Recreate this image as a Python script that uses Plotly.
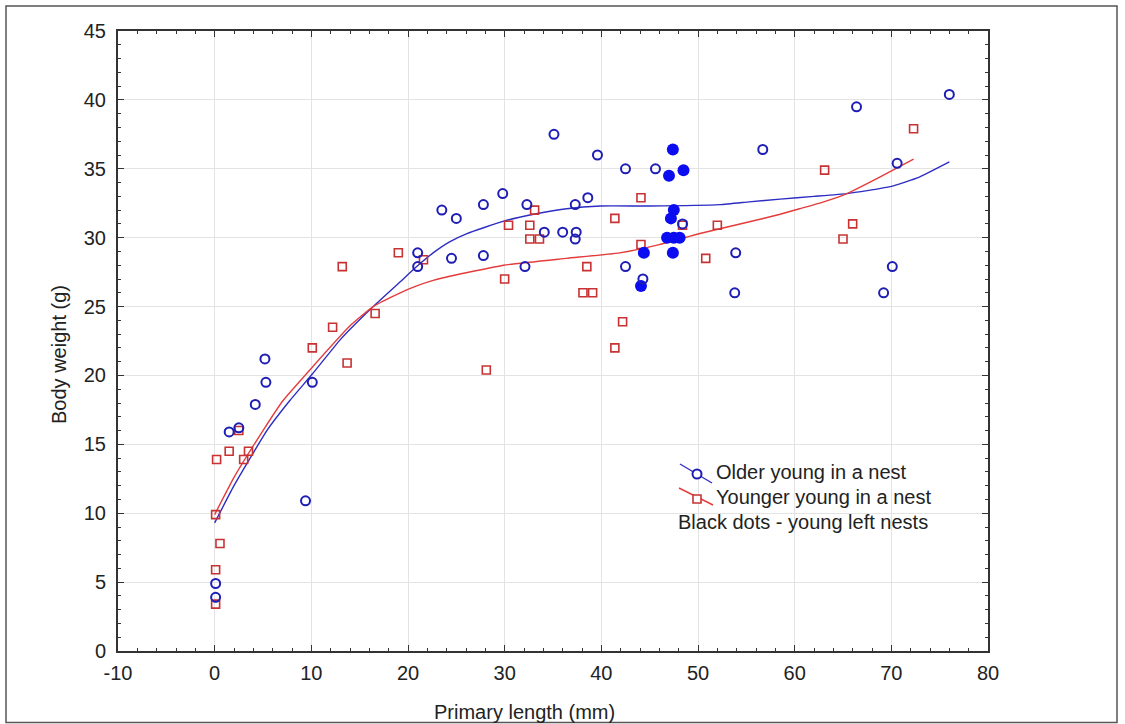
import plotly.graph_objects as go

# ---------------- data ----------------
older_x = [0.1, 0.1, 1.5, 2.5, 4.2, 5.2, 5.3, 9.4, 10.1, 21.0, 21.0, 23.5, 25.0, 24.5,
           27.8, 27.8, 29.8, 32.3, 32.1, 34.1, 35.1, 36.0, 37.4, 37.3, 37.3, 38.6,
           39.6, 42.5, 42.5, 44.3, 45.6, 48.4, 53.9, 53.8, 56.7, 66.4, 70.6, 70.1,
           69.2, 76.0]
older_y = [4.9, 3.9, 15.9, 16.2, 17.9, 21.2, 19.5, 10.9, 19.5, 28.9, 27.9, 32.0, 31.4, 28.5,
           32.4, 28.7, 33.2, 32.4, 27.9, 30.4, 37.5, 30.4, 30.4, 29.9, 32.4, 32.9,
           36.0, 35.0, 27.9, 27.0, 35.0, 31.0, 28.9, 26.0, 36.4, 39.5, 35.4, 27.9,
           26.0, 40.4]

younger_x = [0.1, 0.1, 0.55, 0.1, 0.2, 1.5, 2.5, 3.0, 3.5, 10.1, 12.2, 13.2, 13.7, 16.6,
             19.0, 21.6, 28.1, 30.0, 30.4, 32.6, 32.6, 33.1, 33.6, 38.5, 38.1, 39.1,
             41.4, 41.4, 42.2, 44.1, 44.1, 48.4, 50.8, 52.0, 63.1, 65.0, 66.0, 72.3]
younger_y = [3.4, 5.9, 7.8, 9.9, 13.9, 14.5, 16.0, 13.9, 14.5, 22.0, 23.5, 27.9, 20.9, 24.5,
             28.9, 28.4, 20.4, 27.0, 30.9, 30.9, 29.9, 32.0, 29.9, 27.9, 26.0, 26.0,
             31.4, 22.0, 23.9, 32.9, 29.5, 30.9, 28.5, 30.9, 34.9, 29.9, 31.0, 37.9]

left_x = [47.4, 47.0, 48.5, 47.5, 47.2, 46.8, 47.5, 48.1, 44.4, 47.4, 44.1]
left_y = [36.4, 34.5, 34.9, 32.0, 31.4, 30.0, 30.0, 30.0, 28.9, 28.9, 26.5]

older_fit_x = [0, 2, 5.4, 7.8, 10.1, 13, 16.4, 19.2, 20.9, 22.6, 24.3, 26.1, 29.9, 33.0,
               36.4, 39.9, 45, 52.3, 55.3, 58.5, 62, 65.4, 69.9, 72.9, 76.0]
older_fit_y = [9.3, 12.0, 16.0, 18.2, 20.1, 22.6, 25.0, 26.8, 27.9, 28.9, 29.7, 30.3, 31.2, 31.7,
               32.1, 32.3, 32.3, 32.4, 32.6, 32.8, 33.0, 33.2, 33.7, 34.4, 35.5]

younger_fit_x = [0, 2, 5.0, 7.1, 10.1, 14.0, 16.4, 19.2, 20.9, 22.6, 24.3, 29.9, 36.4, 41.9,
                 46, 50.2, 55, 58.5, 60.5, 63, 65.4, 68.8, 72.3]
younger_fit_y = [9.9, 12.6, 16.0, 18.2, 20.6, 23.6, 25.0, 26.0, 26.5, 26.9, 27.2, 28.0, 28.5, 28.9,
                 29.5, 30.3, 31.1, 31.7, 32.1, 32.6, 33.2, 34.4, 35.7]

x_tickvals = [-10, 0, 10, 20, 30, 40, 50, 60, 70, 80]
x_ticktext = ["-10", "0", "10", "20", "30", "40", "50", "60", "70", "80"]
y_tickvals = [0, 5, 10, 15, 20, 25, 30, 35, 40, 45]

legend_labels = ["Older young in a nest", "Younger young in a nest",
                 "Black dots - young left nests"]
x_title = "Primary length (mm)"
y_title = "Body weight (g)"

# ---------------- style ----------------
BLUE = "rgb(30,30,180)"
BLUE_LINE = "rgb(45,45,195)"
RED = "rgb(200,50,50)"
RED_LINE = "rgb(228,60,60)"
FILL_BLUE = "rgb(12,12,240)"
FONT = "Liberation Sans, Arial, sans-serif"
TXT = "#222222"

W, H = 1125, 724
L, R, T, B = 118, 988, 31, 651  # plot area in pixels


def px(x):
    return (x - L) / (R - L)


def py(y):
    return (B - y) / (B - T)


fig = go.Figure()
fig.add_trace(go.Scatter(x=older_fit_x, y=older_fit_y, mode="lines",
                         line=dict(color=BLUE_LINE, width=1.4, shape="spline", smoothing=0.4),
                         showlegend=False, hoverinfo="skip"))
fig.add_trace(go.Scatter(x=younger_fit_x, y=younger_fit_y, mode="lines",
                         line=dict(color=RED_LINE, width=1.4, shape="spline", smoothing=0.4),
                         showlegend=False, hoverinfo="skip"))
fig.add_trace(go.Scatter(x=younger_x, y=younger_y, mode="markers",
                         marker=dict(symbol="square-open", size=8, color=RED,
                                     line=dict(width=1.6, color=RED)),
                         showlegend=False))
fig.add_trace(go.Scatter(x=left_x, y=left_y, mode="markers",
                         marker=dict(symbol="circle", size=12, color=FILL_BLUE,
                                     line=dict(width=0)),
                         showlegend=False))
fig.add_trace(go.Scatter(x=older_x, y=older_y, mode="markers",
                         marker=dict(symbol="circle-open", size=9, color=BLUE,
                                     line=dict(width=2, color=BLUE)),
                         showlegend=False))

axis_common = dict(
    showline=True, linecolor="#333333", linewidth=2, mirror="allticks",
    ticks="inside", ticklen=6, tickwidth=1.2, tickcolor="#333333",
    showgrid=True, gridcolor="#e3e3e3", gridwidth=1, zeroline=False,
    tickfont=dict(family=FONT, size=20, color=TXT),
)

fig.update_xaxes(range=[-10, 80], tickmode="array", tickvals=x_tickvals, ticktext=x_ticktext,
                 minor=dict(tickmode="linear", tick0=-10, dtick=2, ticks="inside",
                            ticklen=3, tickcolor="#333333", showgrid=False),
                 ticklabelstandoff=3, **axis_common)
fig.update_yaxes(range=[0, 45], tickmode="array", tickvals=y_tickvals,
                 minor=dict(tickmode="linear", tick0=0, dtick=1, ticks="inside",
                            ticklen=3, tickcolor="#333333", showgrid=False),
                 ticklabelstandoff=6, **axis_common)

shapes = [
    # outer frame
    dict(type="rect", xref="paper", yref="paper", x0=px(6), x1=px(1117), y0=py(722.5), y1=py(6),
         line=dict(color="#555555", width=1.5), layer="above"),
    # legend symbols
    dict(type="line", xref="paper", yref="paper", x0=px(680), y0=py(464), x1=px(712), y1=py(483),
         line=dict(color=BLUE_LINE, width=1.4)),
    dict(type="circle", xref="paper", yref="paper", xsizemode="pixel", ysizemode="pixel",
         xanchor=px(697), yanchor=py(474), x0=-4.5, x1=4.5, y0=-4.5, y1=4.5,
         line=dict(color=BLUE, width=2), fillcolor="white"),
    dict(type="line", xref="paper", yref="paper", x0=px(679), y0=py(488), x1=px(713), y1=py(505),
         line=dict(color=RED_LINE, width=1.4)),
    dict(type="rect", xref="paper", yref="paper", xsizemode="pixel", ysizemode="pixel",
         xanchor=px(697), yanchor=py(499), x0=-4, x1=4, y0=-4, y1=4,
         line=dict(color=RED, width=1.6), fillcolor="white"),
]

annotations = [
    dict(text=legend_labels[0], xref="paper", yref="paper", x=px(714), y=py(472),
         xanchor="left", yanchor="middle", showarrow=False,
         font=dict(family=FONT, size=20, color=TXT)),
    dict(text=legend_labels[1], xref="paper", yref="paper", x=px(714), y=py(497),
         xanchor="left", yanchor="middle", showarrow=False,
         font=dict(family=FONT, size=20, color=TXT)),
    dict(text=legend_labels[2], xref="paper", yref="paper", x=px(676), y=py(522),
         xanchor="left", yanchor="middle", showarrow=False,
         font=dict(family=FONT, size=20, color=TXT)),
    dict(text=x_title, xref="paper", yref="paper", x=px(524), y=py(712),
         xanchor="center", yanchor="middle", showarrow=False,
         font=dict(family=FONT, size=20, color=TXT)),
    dict(text=y_title, xref="paper", yref="paper", x=px(59), y=py(354),
         xanchor="center", yanchor="middle", showarrow=False, textangle=-90,
         font=dict(family=FONT, size=20, color=TXT)),
]

fig.update_layout(
    width=W, height=H,
    margin=dict(l=L, r=W - R, t=T, b=H - B, pad=0),
    plot_bgcolor="white", paper_bgcolor="white",
    shapes=shapes, annotations=annotations,
    showlegend=False,
    font=dict(family=FONT, size=20, color=TXT),
)

fig.write_html("out.html")
